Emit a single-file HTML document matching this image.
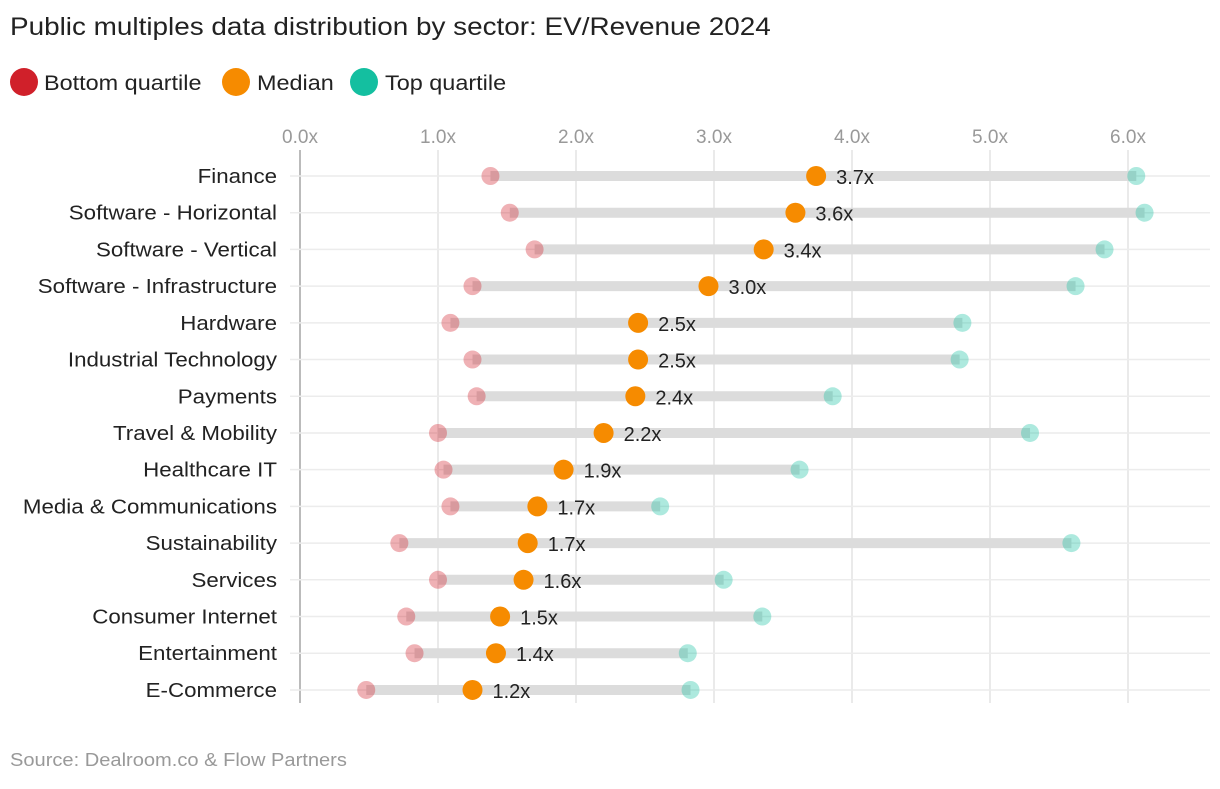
<!DOCTYPE html>
<html><head><meta charset="utf-8"><style>
body{margin:0;background:#fff;font-family:"Liberation Sans",sans-serif;}
svg text{font-family:"Liberation Sans",sans-serif;}
</style></head><body>
<svg id="chart" width="1220" height="784" xmlns="http://www.w3.org/2000/svg">
<text class="wide" x="10" y="35" font-size="25" fill="#222">Public multiples data distribution by sector: EV/Revenue 2024</text>
<g>
<circle cx="24" cy="82" r="14" fill="#d0202a"/>
<text class="wide" x="44" y="90" font-size="21" fill="#222">Bottom quartile</text>
<circle cx="236" cy="82" r="14" fill="#f68b00"/>
<text class="wide" x="257" y="90" font-size="21" fill="#222">Median</text>
<circle cx="364" cy="82" r="14" fill="#14bfa0"/>
<text class="wide" x="385" y="90" font-size="21" fill="#222">Top quartile</text>
</g>
<g id="grid"></g><g id="marks"></g>
<text class="wide" x="10" y="766" font-size="18" fill="#999">Source: Dealroom.co &amp; Flow Partners</text>
</svg>
<script>
const categories=["Finance","Software - Horizontal","Software - Vertical","Software - Infrastructure","Hardware","Industrial Technology","Payments","Travel & Mobility","Healthcare IT","Media & Communications","Sustainability","Services","Consumer Internet","Entertainment","E-Commerce"];
const bottomQuartile=[1.38,1.52,1.70,1.25,1.09,1.25,1.28,1.0,1.04,1.09,0.72,1.0,0.77,0.83,0.48];
const median=[3.74,3.59,3.36,2.96,2.45,2.45,2.43,2.20,1.91,1.72,1.65,1.62,1.45,1.42,1.25];
const topQuartile=[6.06,6.12,5.83,5.62,4.80,4.78,3.86,5.29,3.62,2.61,5.59,3.07,3.35,2.81,2.83];
const medianLabels=["3.7x","3.6x","3.4x","3.0x","2.5x","2.5x","2.4x","2.2x","1.9x","1.7x","1.7x","1.6x","1.5x","1.4x","1.2x"];
const ticks=[0,1,2,3,4,5,6];
const tickLabels=["0.0x","1.0x","2.0x","3.0x","4.0x","5.0x","6.0x"];
const NS="http://www.w3.org/2000/svg";
const x=v=>300+v*138;
const y=i=>176+i*36.71;
function mk(tag,attrs,parent,txt){const e=document.createElementNS(NS,tag);for(const k in attrs)e.setAttribute(k,attrs[k]);if(txt!==undefined)e.textContent=txt;parent.appendChild(e);return e;}
const grid=document.getElementById('grid'),marks=document.getElementById('marks');
ticks.forEach((t,i)=>{
 const l=mk('line',{x1:x(t),x2:x(t),y1:150,y2:703,stroke:t===0?'#bbb':'#e3e3e3','stroke-width':t===0?2:1.5},grid);
 
 
 const tx=mk('text',{x:x(t),y:143,'font-size':19,fill:'#999','text-anchor':'middle'},grid,tickLabels[i]);
 
 
});
categories.forEach((c,i)=>{
 const yy=y(i);
 const gl=mk('line',{x1:290,x2:1210,y1:yy,y2:yy,stroke:'#ececec','stroke-width':1.5},grid);
 
 
 const lab=mk('text',{x:277,y:yy+7,'font-size':20,fill:'#222','text-anchor':'end','class':'wide'},marks,c);
 
 
 const bar=mk('line',{x1:x(bottomQuartile[i]),x2:x(topQuartile[i]),y1:yy,y2:yy,stroke:'#dcdcdc','stroke-width':10},marks);
 
 
 const b=mk('circle',{cx:x(bottomQuartile[i]),cy:yy,r:9,fill:'#d0202a','fill-opacity':0.35},marks);
 
 
 const t=mk('circle',{cx:x(topQuartile[i]),cy:yy,r:9,fill:'#14bfa0','fill-opacity':0.35},marks);
 
 
 const m=mk('circle',{cx:x(median[i]),cy:yy,r:10,fill:'#f68b00'},marks);
 
 
 const ml=mk('text',{x:x(median[i])+20,y:yy+8,'font-size':20,fill:'#222'},marks,medianLabels[i]);
 
 
});
document.querySelectorAll('text.wide').forEach(el=>{
 const w=el.getComputedTextLength();
 el.setAttribute('textLength',(w*1.115).toFixed(1));
 el.setAttribute('lengthAdjust','spacingAndGlyphs');
});
</script>
</body></html>
